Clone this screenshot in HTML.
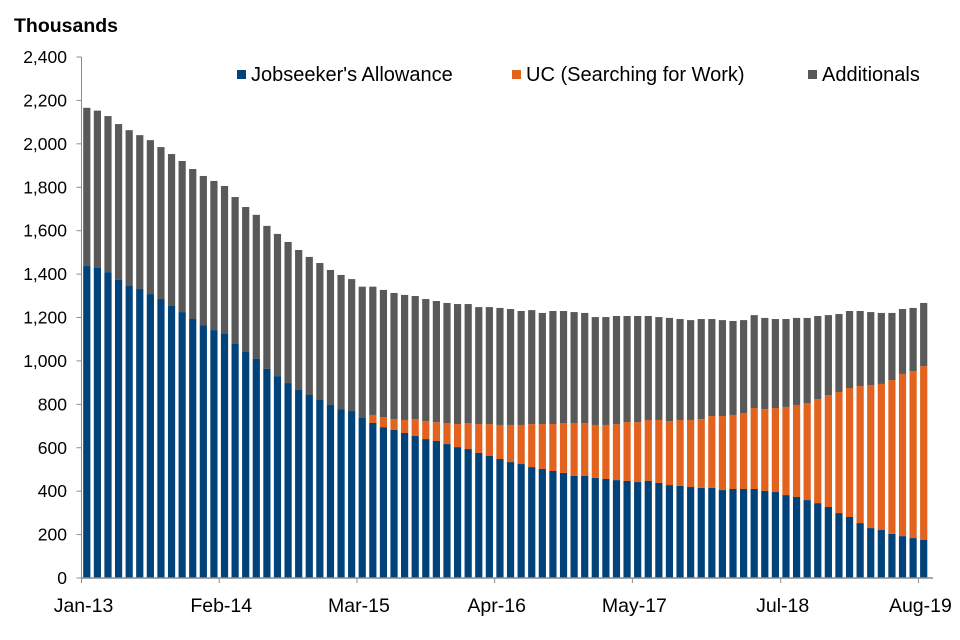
<!DOCTYPE html>
<html><head><meta charset="utf-8"><style>
body{margin:0;background:#fff;}
svg{display:block;font-family:"Liberation Sans",Arial,sans-serif;}
</style></head><body>
<svg id="chart" width="960" height="640"></svg>
<script>
const categories = [];
const months = ["Jan","Feb","Mar","Apr","May","Jun","Jul","Aug","Sep","Oct","Nov","Dec"];
for (let i = 0; i < 80; i++) categories.push(months[i % 12] + "-" + (13 + Math.floor(i / 12)));
const jsaValues = [1437,1428,1409,1373,1345,1331,1308,1285,1253,1225,1193,1165,1142,1124,1078,1041,1009,963,930,898,866,843,820,797,778,769,737,714,695,682,668,654,640,631,617,603,594,576,562,548,534,525,511,502,493,484,470,470,461,456,451,447,442,447,438,428,424,419,415,415,405,410,410,410,401,396,382,373,359,345,327,299,281,253,230,221,203,193,184,175];
const ucValues = [0,0,0,0,0,0,0,0,0,0,0,0,0,0,0,0,0,0,0,0,0,0,0,0,0,0,0,37,46,50,60,78,83,87,97,106,120,133,147,157,171,180,198,207,216,230,244,244,244,249,258,271,276,281,290,295,304,309,317,331,341,341,350,373,377,387,406,424,447,479,516,558,594,631,659,673,709,747,769,801];
const additionalValues = [729,725,719,718,718,709,709,700,700,696,691,687,687,682,677,668,664,659,655,650,645,636,631,622,618,608,605,591,586,581,576,567,562,558,553,553,548,539,539,539,534,525,525,512,521,516,511,507,497,497,498,489,489,479,474,475,465,460,461,447,442,433,428,428,420,410,405,401,392,383,368,359,355,346,336,327,309,299,291,291];
const yTicks = [0,200,400,600,800,1000,1200,1400,1600,1800,2000,2200,2400];
const xTickLabels = ["Jan-13","Feb-14","Mar-15","Apr-16","May-17","Jul-18","Aug-19"];
const xTickIndex = [0,13,26,39,52,66,79];

const NS = "http://www.w3.org/2000/svg";
const svg = document.getElementById("chart");
const L = 81.5, R = 929, T = 57, B = 578;
const band = (R - L) / categories.length;
const y = v => B - v / 2400 * (B - T);
const xb = i => L + i * band;
function mk(tag, attrs, parent) {
  const e = document.createElementNS(NS, tag);
  for (const k in attrs) e.setAttribute(k, attrs[k]);
  (parent || svg).appendChild(e);
  return e;
}
let t = mk("text", {x: 14, y: 32, "font-size": 19.5, "font-weight": "bold", fill: "#000"});
t.textContent = "Thousands";



const series = [[jsaValues, "#00427a", "jsa"], [ucValues, "#e2621e", "uc"], [additionalValues, "#595959", "additionals"]];
const bw = 7.2;
for (let i = 0; i < categories.length; i++) {
  let base = 0;
  for (const [vals, col, nm] of series) {
    const v = vals[i];
    if (v > 0) {
      const r = mk("rect", {x: (xb(i) + (band - bw) / 2).toFixed(2), y: y(base + v).toFixed(2), width: bw, height: (y(base) - y(base + v)).toFixed(2), fill: col});
      
      
    }
    base += v;
  }
}
const ya = mk("line", {x1: L, y1: T, x2: L, y2: B, stroke: "#8c8c8c", "stroke-width": 1});


for (const v of yTicks) {
  mk("line", {x1: L - 5, y1: y(v), x2: L, y2: y(v), stroke: "#8c8c8c"});
  const lb = mk("text", {x: 67, y: y(v) + 6, "font-size": 17.5, "text-anchor": "end", fill: "#000"});
  lb.textContent = v.toLocaleString("en-US");
  
  
}
const xa = mk("line", {x1: L, y1: B, x2: 933, y2: B, stroke: "#8c8c8c", "stroke-width": 1.5});


xTickLabels.forEach((s, k) => {
  const xx = xb(xTickIndex[k]);
  mk("line", {x1: xx, y1: B, x2: xx, y2: B + 5, stroke: "#8c8c8c"});
  const lb = mk("text", {x: xx + 2, y: 612, "font-size": 19.5, "text-anchor": "middle", fill: "#000"});
  lb.textContent = s;
  
  
});
const legend = [["Jobseeker's Allowance", "#00427a", 237], ["UC (Searching for Work)", "#e2621e", 512], ["Additionals", "#595959", 808]];
for (const [s, c, lx] of legend) {
  const g = mk("g", {});
  
  
  mk("rect", {x: lx, y: 70, width: 9, height: 9, fill: c}, g);
  const lt = mk("text", {x: lx + 14, y: 81, "font-size": 20, fill: "#000"}, g);
  lt.textContent = s;
}
</script>
</body></html>
